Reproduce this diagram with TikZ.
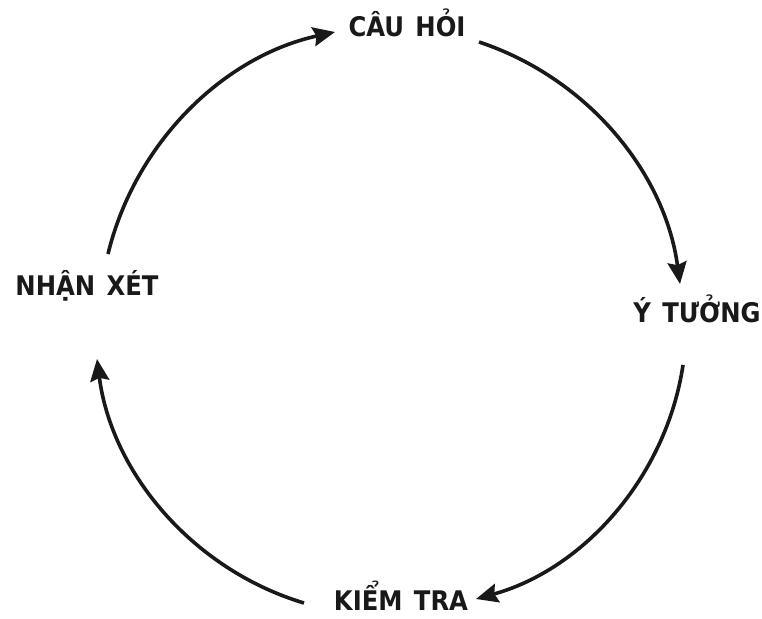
\documentclass[tikz,border=0pt]{standalone}
\usepackage{fontspec}
\newfontfamily\lblfont{DejaVu Sans}[FakeStretch=0.9]
\usetikzlibrary{arrows.meta}
\begin{document}
\begin{tikzpicture}[x=1pt,y=-1pt,
  lbl/.style={inner sep=0pt, anchor=base, font=\lblfont\bfseries\fontsize{27}{30}\selectfont, text=black!90},
  arr/.style={line width=3.6pt, -{Stealth[length=22pt,width=19pt,inset=3pt]}, black!90}]
\useasboundingbox (0,0) rectangle (762,618);
\fill[white] (0,0) rectangle (762,618);
\newcommand{\wsp}{\hspace{0.42em}}
\node[lbl] (ch) at (407,37) {CÂU\wsp HỎI};
\node[lbl] (yt) at (697,322) {Ý\wsp TƯỞNG};
\node[lbl] (kt) at (401,610) {KIỂM\wsp TRA};
\node[lbl] (nx) at (87,295) {NHẬN\wsp XÉT};
\draw[arr] ([shift={(21,-41)}]nx.base) to[bend left=32, looseness=0.92] ([shift={(-72,-5)}]ch.base);
\draw[arr] ([shift={(72,5)}]ch.base) to[bend left=32, looseness=0.92] ([shift={(-17,-38)}]yt.base);
\draw[arr] ([shift={(-14,43)}]yt.base) to[bend left=33, looseness=0.92] ([shift={(75,-11)}]kt.base);
\draw[arr] ([shift={(-97,-7)}]kt.base) to[bend left=33, looseness=0.92] ([shift={(10,64)}]nx.base);
\end{tikzpicture}
\end{document}
